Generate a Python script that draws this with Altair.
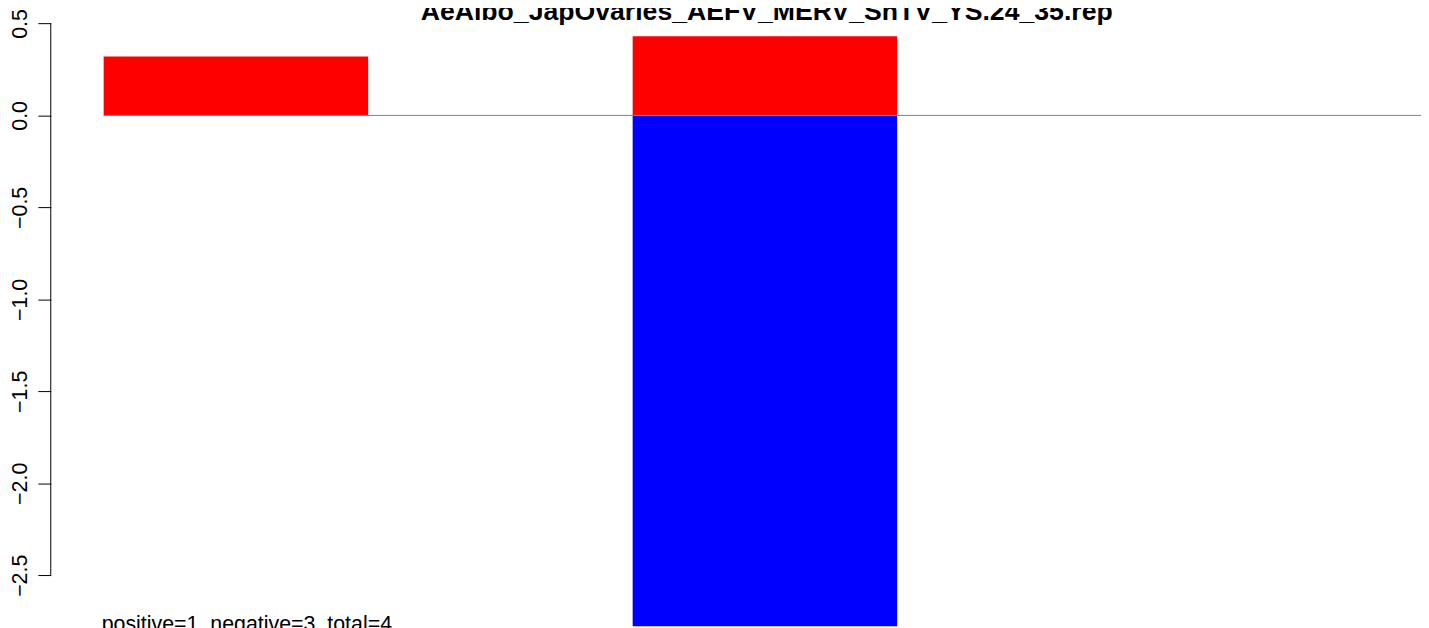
import altair as alt
import pandas as pd

# ---- data ----
categories = ["1", "2", "3"]
positive = [0.32, 0.43, 0.0]
negative = [0.0, -3.0, 0.0]
y_ticks = [0.5, 0.0, -0.5, -1.0, -1.5, -2.0, -2.5]
chart_title = "AeAlbo_JapOvaries_AEFV_MERV_SnTV_YS.24_35.rep"
note = "positive=1, negative=3, total=4"

FONT = "Liberation Sans"
W, H = 1378, 615.5
PX_PER_UNIT = 185.0
Y_TOP = 0.55

rows = []
for i, c in enumerate(categories, start=1):
    rows.append({"cat": c, "idx": i, "part": "pos", "value": positive[i - 1]})
    rows.append({"cat": c, "idx": i, "part": "neg", "value": negative[i - 1]})
df = pd.DataFrame(rows)

xscale = alt.Scale(domain=[0.8, 0.8 + W / 266.0], nice=False, zero=False)
yscale = alt.Scale(domain=[Y_TOP - H / PX_PER_UNIT, Y_TOP], nice=False, zero=False)

base = alt.Chart(df).transform_calculate(
    x0="2 * datum.idx - 1", x1="2 * datum.idx"
)

bars = base.mark_bar(clip=True, strokeWidth=0).encode(
    x=alt.X("x0:Q", scale=xscale, axis=None),
    x2="x1:Q",
    y=alt.Y(
        "value:Q",
        scale=yscale,
        axis=alt.Axis(
            values=y_ticks,
            format=".1f",
            domain=False,
            grid=False,
            ticks=True,
            tickColor="black",
            tickWidth=1,
            tickSize=13,
            labelAngle=-90,
            labelAlign="center",
            labelBaseline="alphabetic",
            labelPadding=11,
            labelFont=FONT,
            labelFontSize=21.5,
            labelColor="black",
            labelOverlap=False,
            title=None,
        ),
    ),
    y2=alt.datum(0),
    color=alt.Color(
        "part:N",
        scale=alt.Scale(domain=["pos", "neg"], range=["#ff0000", "#0000ff"]),
        legend=None,
    ),
)

baseline = alt.Chart(pd.DataFrame({"start": [1], "zero": [0.0]})).mark_rule(
    color="#808080", strokeWidth=1
).encode(
    x=alt.X("start:Q", scale=xscale),
    x2=alt.value(W),
    y=alt.Y("zero:Q", scale=yscale),
)

yaxis_line = alt.Chart(pd.DataFrame({"a": [max(y_ticks)], "b": [min(y_ticks)]})).mark_rule(
    color="black", strokeWidth=1
).encode(
    x=alt.value(0),
    y=alt.Y("a:Q", scale=yscale),
    y2="b:Q",
)

note_df = pd.DataFrame({"x": [1], "y": [-2.805], "label": [note]})
note_text = alt.Chart(note_df).mark_text(
    align="left", baseline="alphabetic", font=FONT, fontSize=21.5,
    color="black", dx=-2, clip=False,
).encode(
    x=alt.X("x:Q", scale=xscale),
    y=alt.Y("y:Q", scale=yscale),
    text="label:N",
)

# main title, centred over the (wider, cropped) R plot region
title_df = pd.DataFrame({"label": [chart_title]})
title_text = alt.Chart(title_df).mark_text(
    align="center", baseline="alphabetic", font=FONT, fontSize=26.8,
    fontWeight="bold", color="black", clip=False,
).encode(
    x=alt.value(720),
    y=alt.value(5.5),
    text="label:N",
)

chart = alt.layer(bars, baseline, yaxis_line, note_text, title_text).properties(
    width=W,
    height=H,
    background="white",
    autosize=alt.AutoSizeParams(type="none"),
    padding={"left": 43, "top": 4.5, "right": 0, "bottom": 0},
).configure_view(strokeWidth=0, stroke="transparent")

chart.save("out.html", embed_options={"renderer": "svg", "actions": False})
